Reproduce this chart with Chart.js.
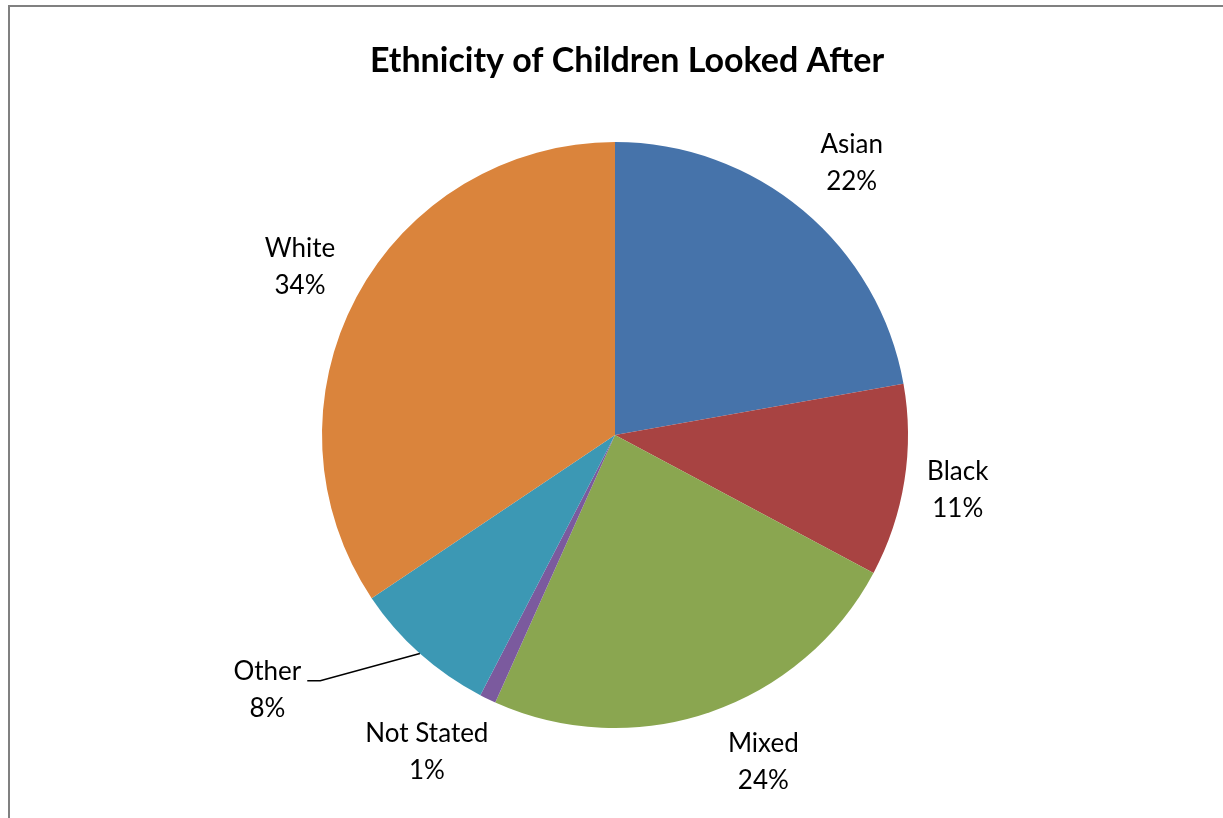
<!DOCTYPE html>
<html>
<head>
<meta charset="utf-8">
<script src="https://cdn.jsdelivr.net/npm/chart.js@4/dist/chart.umd.min.js"></script>
<style>
  html, body { margin: 0; padding: 0; background: #fff; }
  #wrap { width: 1223px; height: 818px; position: relative; }
</style>
</head>
<body>
<div id="wrap"><canvas id="pie"></canvas></div>
<script>
const chartTitle = 'Ethnicity of Children Looked After';
const categories = ['Asian', 'Black', 'Mixed', 'Not Stated', 'Other', 'White'];
const shares = [22.2, 10.6, 23.9, 0.9, 8.0, 34.4];
const sliceColors = ['#4673AA', '#A84342', '#8AA650', '#7B5A9E', '#3C98B4', '#DA843C'];

// where Excel put each data label: extra angle (deg) and distance past the rim
const labelAngleShift = [1, 0, -5.5, 5, 12, 0];
const labelGap = [68, 54, 66, 75, 138, 64];
const leaderFor = [false, false, false, false, true, false];

const frameAndTitle = {
    id: 'frameAndTitle',
    beforeDraw(chart) {
        const ctx = chart.ctx;
        ctx.save();
        ctx.fillStyle = '#808080';
        ctx.fillRect(8, 5, 2, chart.height);
        ctx.fillRect(8, 5, chart.width, 2);
        ctx.fillStyle = '#000';
        ctx.font = 'bold 34px Lato';
        ctx.textAlign = 'center';
        ctx.textBaseline = 'middle';
        ctx.fillText(chartTitle, 627, 61);
        ctx.restore();
    }
};

const sliceLabels = {
    id: 'sliceLabels',
    afterDatasetsDraw(chart) {
        const ctx = chart.ctx;
        const meta = chart.getDatasetMeta(0);
        const total = shares.reduce((a, b) => a + b, 0);
        ctx.save();
        ctx.font = '26px Lato';
        ctx.fillStyle = '#000';
        ctx.textAlign = 'center';
        ctx.textBaseline = 'middle';
        meta.data.forEach((arc, i) => {
            const p = arc.getProps(['x', 'y', 'startAngle', 'endAngle', 'outerRadius'], true);
            const mid = (p.startAngle + p.endAngle) / 2;
            const a = mid + labelAngleShift[i] * Math.PI / 180;
            const d = p.outerRadius + labelGap[i];
            const lx = p.x + Math.cos(a) * d;
            const ly = p.y + Math.sin(a) * d;
            const pct = Math.round(shares[i] / total * 100) + '%';
            ctx.fillText(categories[i], lx, ly - 18);
            ctx.fillText(pct, lx, ly + 19);
            if (leaderFor[i]) {
                const ex = p.x + Math.cos(mid) * p.outerRadius;
                const ey = p.y + Math.sin(mid) * p.outerRadius;
                const w = ctx.measureText(categories[i]).width;
                const sx = lx + w / 2 + 6;
                ctx.strokeStyle = '#000';
                ctx.lineWidth = 1.5;
                ctx.beginPath();
                ctx.moveTo(sx, ly - 9);
                ctx.lineTo(sx + 13, ly - 9);
                ctx.lineTo(ex, ey);
                ctx.stroke();
            }
        });
        ctx.restore();
    }
};

new Chart(document.getElementById('pie'), {
    type: 'pie',
    data: {
        labels: categories,
        datasets: [{
            data: shares,
            backgroundColor: sliceColors,
            borderWidth: 0
        }]
    },
    options: {
        responsive: true,
        maintainAspectRatio: false,
        animation: false,
        layout: {
            padding: { top: 142, bottom: 90, left: 322, right: 315 }
        },
        plugins: {
            legend: { display: false },
            tooltip: { enabled: false },
            title: { display: false }
        }
    },
    plugins: [frameAndTitle, sliceLabels]
});
</script>
</body>
</html>
